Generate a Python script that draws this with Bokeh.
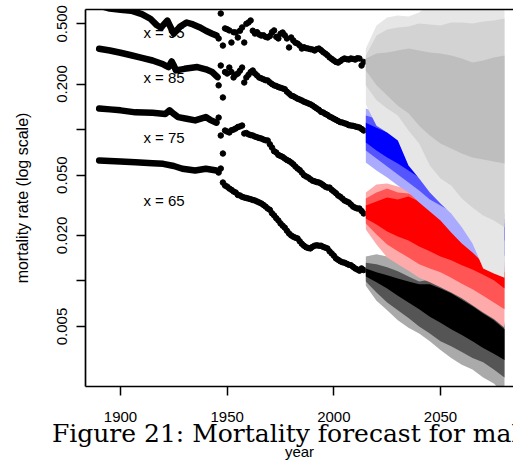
from bokeh.plotting import figure
from bokeh.models import FixedTicker, LinearAxis
from bokeh.core.properties import value
from bokeh.embed import file_html
from bokeh.resources import INLINE

# ---------------- data ----------------
# early period (dense series, drawn as thick lines)
line95_years = [1890, 1895, 1900, 1905, 1910, 1914, 1917, 1919, 1920, 1922, 1923, 1925, 1928, 1931, 1934, 1937, 1940, 1943, 1945]
line95_vals = [0.66, 0.63, 0.62, 0.61, 0.58, 0.54, 0.49, 0.47, 0.49, 0.525, 0.49, 0.43, 0.48, 0.51, 0.495, 0.475, 0.45, 0.43, 0.418]
line85_years = [1890, 1895, 1900, 1905, 1910, 1915, 1920, 1922.5, 1924, 1925, 1926, 1930, 1936, 1940, 1943, 1945.5]
line85_vals = [0.342, 0.333, 0.322, 0.31, 0.298, 0.286, 0.27, 0.259, 0.282, 0.265, 0.246, 0.252, 0.259, 0.25, 0.24, 0.222]
line75_years = [1890, 1895, 1900, 1907, 1915, 1921, 1923, 1925, 1927, 1931, 1935, 1940, 1942, 1945]
line75_vals = [0.138, 0.136, 0.134, 0.130, 0.129, 0.127, 0.134, 0.127, 0.121, 0.118, 0.115, 0.121, 0.116, 0.111]
line65_years = [1890, 1900, 1907, 1915, 1920, 1925, 1929, 1935, 1940, 1945]
line65_vals = [0.0625, 0.0615, 0.0609, 0.060, 0.0594, 0.0575, 0.0551, 0.0537, 0.0551, 0.0537]

# later period (annual points)
dot_years = list(range(1946, 2015))
dots95 = [0.40, 0.585, 0.359, 0.466, 0.46, 0.452, 0.376, 0.44, 0.438, 0.406,
          0.45, 0.473, 0.376, 0.50, 0.51, 0.526, 0.45, 0.431, 0.44, 0.425,
          0.418, 0.42, 0.41, 0.406, 0.415, 0.44, 0.452, 0.41, 0.40, 0.43,
          0.438, 0.42, 0.40, 0.349, 0.406, 0.388, 0.375, 0.37, 0.36, 0.343,
          0.35, 0.345, 0.343, 0.34, 0.338, 0.333, 0.34, 0.343, 0.335, 0.325,
          0.318, 0.31, 0.30, 0.293, 0.286, 0.28, 0.277, 0.283, 0.29, 0.295,
          0.292, 0.29, 0.295, 0.293, 0.29, 0.296, 0.295, 0.265, 0.28]
dots85 = [0.196, 0.265, 0.163, 0.24, 0.2347, 0.257, 0.24, 0.221, 0.23, 0.2347,
          0.245, 0.257, 0.2047, 0.221, 0.23, 0.24, 0.2457, 0.235, 0.228, 0.2209,
          0.218, 0.215, 0.212, 0.211, 0.205, 0.20, 0.196, 0.194, 0.191, 0.189,
          0.187, 0.185, 0.178, 0.173, 0.168, 0.166, 0.163, 0.16, 0.158, 0.1557,
          0.153, 0.151, 0.149, 0.147, 0.1443, 0.141, 0.138, 0.135, 0.131, 0.1297,
          0.127, 0.125, 0.122, 0.1202, 0.118, 0.116, 0.114, 0.112, 0.1114, 0.110,
          0.109, 0.107, 0.1064, 0.106, 0.105, 0.104, 0.1032, 0.101, 0.0986]
dots75 = [0.12, 0.0914, 0.0695, 0.0986, 0.097, 0.0957, 0.099, 0.10, 0.1017, 0.104,
          0.105, 0.1064, 0.0942, 0.095, 0.093, 0.092, 0.0914, 0.090, 0.089, 0.088,
          0.0873, 0.086, 0.085, 0.0847, 0.080, 0.0761, 0.072, 0.0706, 0.068, 0.067,
          0.066, 0.0644, 0.063, 0.062, 0.0606, 0.059, 0.057, 0.0553, 0.054, 0.052,
          0.050, 0.049, 0.0482, 0.047, 0.046, 0.0455, 0.045, 0.0447, 0.044, 0.043,
          0.042, 0.0414, 0.0414, 0.040, 0.039, 0.038, 0.0367, 0.036, 0.035, 0.034,
          0.0335, 0.033, 0.032, 0.031, 0.0305, 0.0301, 0.0301, 0.029, 0.0279]
dots65 = [0.052, 0.0553, 0.0447, 0.0427, 0.042, 0.0408, 0.040, 0.039, 0.0384, 0.037,
          0.0367, 0.036, 0.0356, 0.0353, 0.035, 0.0347, 0.0343, 0.034, 0.0335, 0.033,
          0.0325, 0.0318, 0.031, 0.0301, 0.0295, 0.028, 0.0271, 0.026, 0.0251, 0.024,
          0.0232, 0.0225, 0.0215, 0.0206, 0.020, 0.0196, 0.0193, 0.0191, 0.0183, 0.0176,
          0.0171, 0.0167, 0.0165, 0.0164, 0.0168, 0.0171, 0.0172, 0.0171, 0.0171, 0.0168,
          0.0166, 0.0164, 0.0157, 0.0152, 0.0147, 0.0141, 0.0138, 0.0135, 0.0133, 0.0132,
          0.013, 0.0128, 0.0127, 0.0124, 0.0121, 0.0119, 0.0117, 0.0121, 0.0118]

# forecast bands (outer / middle / inner, lower and upper bounds)
fan_years = [2015, 2020, 2025, 2030, 2035, 2040, 2045, 2050, 2055, 2060, 2065, 2070, 2075, 2080]

f65_out_lo = [0.0093, 0.0074, 0.0064, 0.0055, 0.0049, 0.0045, 0.004, 0.0035, 0.0031, 0.0028, 0.0026, 0.0023, 0.0021, 0.0018]
f65_out_hi = [0.0145, 0.015, 0.0145, 0.0131, 0.0121, 0.011, 0.0107, 0.0099, 0.0092, 0.0084, 0.0075, 0.0068, 0.0061, 0.0053]
f65_mid_lo = [0.0099, 0.0084, 0.0072, 0.0064, 0.0057, 0.005, 0.0045, 0.004, 0.0037, 0.0034, 0.0031, 0.0029, 0.0026, 0.0023]
f65_mid_hi = [0.0132, 0.0129, 0.0123, 0.0116, 0.0107, 0.0099, 0.0102, 0.0095, 0.0088, 0.008, 0.0072, 0.0065, 0.0058, 0.0051]
f65_in_lo = [0.0107, 0.0098, 0.0089, 0.008, 0.0072, 0.0065, 0.0058, 0.0053, 0.0048, 0.0044, 0.004, 0.0036, 0.0033, 0.003]
f65_in_hi = [0.0121, 0.0114, 0.0109, 0.0104, 0.0099, 0.0095, 0.0095, 0.0089, 0.0083, 0.0075, 0.0068, 0.0061, 0.0055, 0.0048]

f75_out_lo = [0.0219, 0.0174, 0.0143, 0.0129, 0.0117, 0.0105, 0.0098, 0.0091, 0.0084, 0.0077, 0.0069, 0.0062, 0.0056, 0.0049]
f75_out_hi = [0.0384, 0.0434, 0.044, 0.0421, 0.0408, 0.0373, 0.0325, 0.0283, 0.0243, 0.0206, 0.018, 0.0154, 0.0141, 0.0132]
f75_mid_lo = [0.024, 0.0203, 0.0174, 0.0157, 0.0143, 0.0129, 0.0121, 0.0114, 0.0105, 0.0096, 0.0088, 0.008, 0.0072, 0.0065]
f75_mid_hi = [0.0351, 0.0384, 0.0408, 0.0384, 0.0378, 0.0351, 0.0306, 0.0267, 0.0226, 0.0191, 0.0166, 0.0141, 0.0129, 0.0123]
f75_in_lo = [0.0259, 0.0236, 0.0212, 0.0197, 0.0185, 0.0169, 0.0157, 0.0145, 0.0137, 0.0127, 0.0119, 0.011, 0.0101, 0.0089]
f75_in_hi = [0.0315, 0.0335, 0.0356, 0.0345, 0.0361, 0.0335, 0.0292, 0.0255, 0.0212, 0.018, 0.0157, 0.0131, 0.0121, 0.0114]

f85_out_lo = [0.0606, 0.0537, 0.0483, 0.0427, 0.0384, 0.033, 0.0288, 0.0251, 0.0209, 0.0177, 0.0154, 0.0132, 0.0121, 0.0114]
f85_out_hi = [0.138, 0.130, 0.120, 0.111, 0.0986, 0.0847, 0.0728, 0.0625, 0.0537, 0.0461, 0.0396, 0.034, 0.0306, 0.0279]
f85_mid_lo = [0.0728, 0.0644, 0.0571, 0.0505, 0.0447, 0.0396, 0.0345, 0.0315, 0.0288, 0.0251, 0.0216, 0.0185, 0.0164, 0.0147]
f85_mid_hi = [0.124, 0.118, 0.110, 0.102, 0.090, 0.0773, 0.0664, 0.0571, 0.049, 0.0421, 0.0361, 0.031, 0.0279, 0.0255]
f85_in_lo = [0.0822, 0.0728, 0.0654, 0.0597, 0.0537, 0.0483, 0.0421, 0.0361, 0.032, 0.0283, 0.0251, 0.0222, 0.020, 0.0185]
f85_in_hi = [0.111, 0.103, 0.0957, 0.0873, 0.075, 0.0644, 0.0553, 0.0475, 0.0408, 0.0361, 0.0325, 0.0292, 0.0263, 0.024]

f95_out_lo = [0.1465, 0.106, 0.0957, 0.0847, 0.0579, 0.0475, 0.0384, 0.0325, 0.0279, 0.0226, 0.0177, 0.0121, 0.0112, 0.0105]
f95_out_hi = [0.344, 0.487, 0.55, 0.567, 0.559, 0.594, 0.68, 0.72, 0.74, 0.76, 0.77, 0.78, 0.79, 0.80]
f95_mid_lo = [0.196, 0.156, 0.138, 0.124, 0.0986, 0.081, 0.0579, 0.0475, 0.0427, 0.0351, 0.0306, 0.0271, 0.0251, 0.0226]
f95_mid_hi = [0.309, 0.419, 0.459, 0.473, 0.480, 0.502, 0.495, 0.487, 0.510, 0.510, 0.502, 0.518, 0.526, 0.542]
f95_in_lo = [0.246, 0.196, 0.168, 0.144, 0.128, 0.106, 0.0914, 0.081, 0.075, 0.0695, 0.0654, 0.0635, 0.0616, 0.0597]
f95_in_hi = [0.295, 0.318, 0.323, 0.333, 0.343, 0.333, 0.323, 0.318, 0.309, 0.295, 0.278, 0.286, 0.300, 0.309]

age_labels = ["x = 95", "x = 85", "x = 75", "x = 65"]
label_x = [1920.4, 1920.4, 1920.4, 1920.4]
label_y = [0.435, 0.221, 0.0887, 0.034]

x_ticks = [1900, 1950, 2000, 2050]
y_ticks = [0.005, 0.01, 0.02, 0.05, 0.1, 0.2, 0.5]
y_tick_text = ["0.005", "", "0.020", "0.050", "", "0.200", "0.500"]

caption = "Figure 21: Mortality forecast for males"

# ---------------- figure ----------------
p = figure(width=513, height=463, y_axis_type="log",
           x_range=(1883.59, 2084.22), y_range=(0.002008, 0.6215),
           output_backend="svg", toolbar_location=None,
           min_border_left=85, min_border_right=0, min_border_top=9, min_border_bottom=77)
p.xgrid.visible = False
p.ygrid.visible = False
p.outline_line_color = None
p.background_fill_color = "white"

sans = "Liberation Sans"
serif = "DejaVu Serif"

# axes
for ax in (p.xaxis[0], p.yaxis[0]):
    ax.axis_line_width = 1.7
    ax.major_tick_line_width = 1.5
    ax.major_tick_out = 9
    ax.major_tick_in = 0
    ax.minor_tick_out = 0
    ax.minor_tick_in = 0
    ax.major_label_text_font = sans
    ax.major_label_text_font_size = "15px"
    ax.major_label_text_color = "black"
    ax.axis_label_text_font_style = "normal"
    ax.axis_label_text_color = "black"

# bottom axis: ticks + the figure caption as its label
p.xaxis.ticker = FixedTicker(ticks=x_ticks)
p.xaxis.major_label_standoff = 16
p.xaxis.axis_label = caption
p.xaxis.axis_label_text_font = serif
p.xaxis.axis_label_text_font_size = "25px"
p.xaxis.axis_label_standoff = -6

# second bottom axis carrying only the "year" title
year_axis = LinearAxis(ticker=FixedTicker(ticks=[]), axis_line_color=None,
                       major_tick_out=0, major_tick_in=0, minor_tick_out=0, minor_tick_in=0,
                       major_label_text_font_size="0px", major_label_standoff=0,
                       axis_label="year", axis_label_text_font=sans,
                       axis_label_text_font_size="15px", axis_label_text_font_style="normal",
                       axis_label_text_line_height=1.0,
                       axis_label_text_color="black", axis_label_standoff=-8)
p.add_layout(year_axis, "below")

p.yaxis.ticker = FixedTicker(ticks=y_ticks)
p.yaxis.major_label_overrides = {t: s for t, s in zip(y_ticks, y_tick_text)}
p.yaxis.major_label_orientation = "vertical"
p.yaxis.major_label_standoff = 9
p.yaxis.axis_label = "mortality rate (log scale)"
p.yaxis.axis_label_text_font = sans
p.yaxis.axis_label_text_font_size = "16px"
p.yaxis.axis_label_text_line_height = 1.0
p.yaxis.axis_label_standoff = 24

top = LinearAxis(ticker=FixedTicker(ticks=[]), axis_line_width=1.7,
                 major_tick_out=0, major_tick_in=0, minor_tick_out=0, minor_tick_in=0,
                 major_label_text_font_size="0px", major_label_standoff=0)
p.add_layout(top, "above")

# labels (drawn first, lines go over them)
p.text(x=label_x, y=label_y, text=age_labels, text_font=value(sans), text_font_size="15px",
       text_align="center", text_baseline="middle", text_color="black")

# history
for yrs, vals in ((line95_years, line95_vals), (line85_years, line85_vals),
                  (line75_years, line75_vals), (line65_years, line65_vals)):
    p.line(yrs, vals, line_width=6.5, line_color="black", line_cap="round", line_join="round")
for vals in (dots95, dots85, dots75, dots65):
    p.scatter(dot_years, vals, size=5.5, fill_color="black", line_color="black")

# forecast fans: 65, 75, 85, 95 in that order
fans = [
    (["#aaaaaa", "#555555", "#000000"], [(f65_out_lo, f65_out_hi), (f65_mid_lo, f65_mid_hi), (f65_in_lo, f65_in_hi)]),
    (["#ffaaaa", "#ff5555", "#ff0000"], [(f75_out_lo, f75_out_hi), (f75_mid_lo, f75_mid_hi), (f75_in_lo, f75_in_hi)]),
    (["#aaaaff", "#5555ff", "#0000ff"], [(f85_out_lo, f85_out_hi), (f85_mid_lo, f85_mid_hi), (f85_in_lo, f85_in_hi)]),
    (["#e6e6e6", "#d3d3d3", "#bebebe"], [(f95_out_lo, f95_out_hi), (f95_mid_lo, f95_mid_hi), (f95_in_lo, f95_in_hi)]),
]
for colors, bands in fans:
    for c, (lo, hi) in zip(colors, bands):
        p.varea(x=fan_years, y1=lo, y2=hi, fill_color=c, fill_alpha=1.0)

open("out.html", "w").write(file_html(p, INLINE))
